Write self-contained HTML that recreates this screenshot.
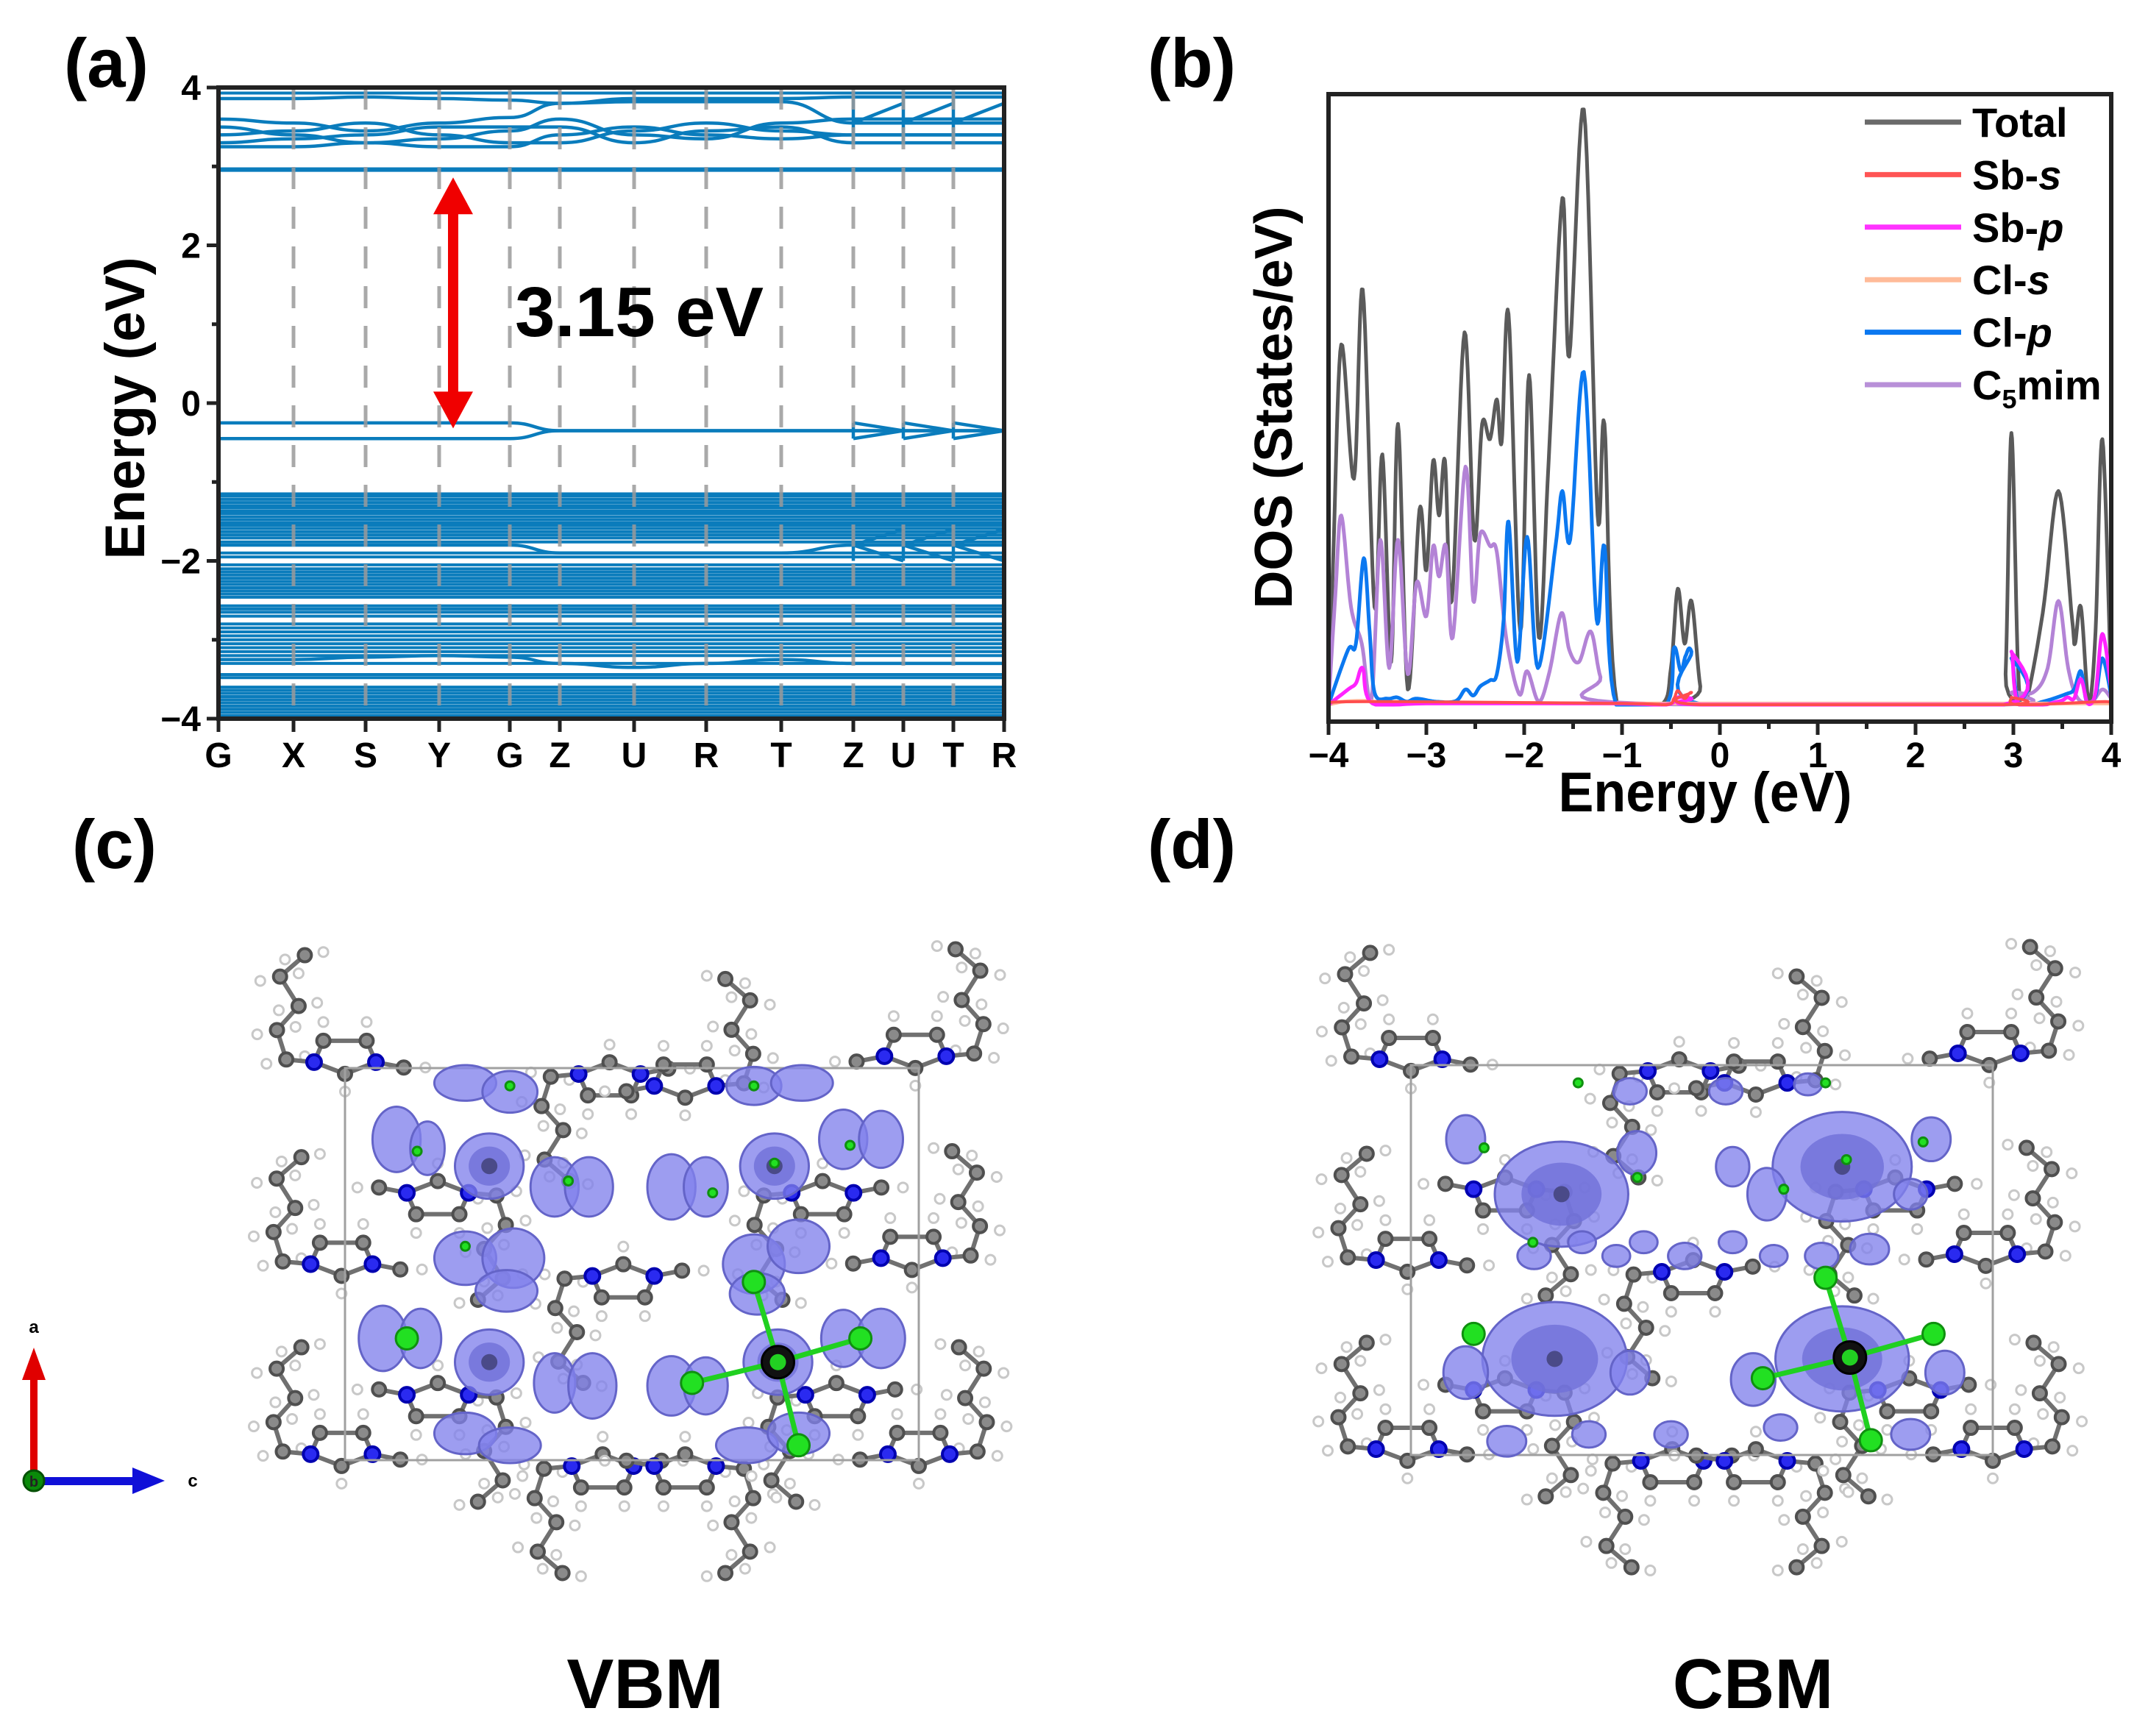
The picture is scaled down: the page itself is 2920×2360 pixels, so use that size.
<!DOCTYPE html>
<html><head><meta charset="utf-8"><title>Band structure, DOS and VBM/CBM charge densities</title>
<style>
html,body{margin:0;padding:0;background:#fff;}
svg{display:block;font-family:"Liberation Sans",Arial,sans-serif;}
</style></head>
<body>
<svg id="fig" xmlns="http://www.w3.org/2000/svg" width="2920" height="2360" viewBox="0 0 2920 2360">
  <rect x="0" y="0" width="2920" height="2360" fill="#fff"/>
  <g id="panelA"></g>
  <g id="panelB"></g>
  <g id="panelC"></g>
  <g id="panelD"></g>

  <text x="87" y="118" font-size="94" font-weight="bold">(a)</text>
  <text x="1560" y="118" font-size="94" font-weight="bold">(b)</text>
  <text x="98" y="1180" font-size="94" font-weight="bold">(c)</text>
  <text x="1560" y="1180" font-size="94" font-weight="bold">(d)</text>
  <text x="877" y="2322" font-size="96" font-weight="bold" text-anchor="middle">VBM</text>
  <text x="2383" y="2322" font-size="96" font-weight="bold" text-anchor="middle">CBM</text>
</svg>
<script>
const NS = "http://www.w3.org/2000/svg";
// ---------- Panel (a) data ----------
const kLabels = ["G","X","S","Y","G","Z","U","R","T","Z","U","T","R"];
const kDist = [0,102,200,300,396,464,565,663,765,863,931,999,1068];
const yTicksA = [4,2,0,-2,-4];
const flatBands = [2.95,2.97,3.93,
 -1.15,-1.18,-1.22,-1.26,-1.30,-1.33,-1.37,-1.40,-1.44,-1.48,-1.52,-1.55,-1.59,-1.63,-1.67,-1.71,-1.76,
 -1.90,-1.95,-2.05,-2.10,-2.14,-2.18,-2.22,-2.26,-2.30,-2.34,-2.38,-2.42,-2.46,-2.57,-2.61,-2.65,-2.70,
 -2.80,-2.85,-2.90,-2.95,-3.00,-3.05,-3.10,-3.15,-3.20,-3.30,-3.44,-3.48,-3.60,-3.64,-3.68,-3.72,-3.76,
 -3.80,-3.84,-3.88,-3.92,-3.96];
const dispBand1 = [3.60,3.55,3.45,3.55,3.62,3.80,3.82,3.82,3.82,3.55,3.55,3.55,3.55];
const dispBand2 = [3.40,3.45,3.55,3.40,3.30,3.30,3.45,3.55,3.45,3.40,3.40,3.40,3.40];
const dispBand3 = [3.30,3.35,3.40,3.50,3.50,3.50,3.30,3.45,3.50,3.30,3.30,3.30,3.30];
const dispBand4 = [3.25,3.25,3.30,3.25,3.25,3.40,3.50,3.40,3.35,3.40,3.40,3.40,3.40];
const dispBand5 = [3.86,3.86,3.88,3.86,3.84,3.80,3.86,3.86,3.86,3.88,3.88,3.88,3.88];
const dispBand6 = [-0.25,-0.25,-0.25,-0.25,-0.25,-0.35,-0.35,-0.35,-0.35,-0.35,-0.35,-0.35,-0.35];
const dispBand7 = [-0.45,-0.45,-0.45,-0.45,-0.45,-0.35,-0.35,-0.35,-0.35,-0.35,-0.35,-0.35,-0.35];
const dispBand8 = [-1.80,-1.80,-1.80,-1.80,-1.80,-1.90,-1.90,-1.90,-1.90,-1.80,-1.80,-1.80,-1.80];
const dispBand9 = [-3.25,-3.25,-3.22,-3.20,-3.22,-3.30,-3.35,-3.30,-3.25,-3.30,-3.30,-3.30,-3.30];
const dispBand10 = [3.50,3.40,3.30,3.35,3.45,3.60,3.40,3.35,3.55,3.60,3.60,3.60,3.60];
const dispBands = [dispBand1,dispBand2,dispBand3,dispBand4,dispBand5,dispBand6,dispBand7,dispBand8,dispBand9,dispBand10];
const triSegs = [[9,-0.25,-0.35],[9,-0.45,-0.35],[10,-0.25,-0.35],[10,-0.45,-0.35],[11,-0.25,-0.35],[11,-0.45,-0.35],
 [9,3.55,3.80],[10,3.55,3.80],[11,3.55,3.80],[9,-1.80,-2.00],[10,-1.80,-2.00],[11,-1.80,-2.00],[9,-1.80,-1.60],[10,-1.80,-1.60],[11,-1.80,-1.60]];
const gapTop = 2.86, gapBottom = -0.32, gapLabel = "3.15 eV";

// ---------- Panel (b) data ----------
const dosTicks = [-4,-3,-2,-1,0,1,2,3,4];
const totalPts = [[-4,0],[-3.95,2.5],[-3.87,5.9],[-3.74,3.7],[-3.65,6.8],[-3.53,1.6],[-3.45,4.1],[-3.36,0.7],[-3.29,4.6],[-3.19,0.25],[-3.07,3.2],[-3.0,2.2],[-2.93,4.0],[-2.87,3.1],[-2.81,4.0],[-2.74,1.7],[-2.61,6.1],[-2.51,2.7],[-2.43,4.6],[-2.35,4.35],[-2.28,5.0],[-2.23,4.3],[-2.16,6.4],[-2.04,1.2],[-1.95,5.4],[-1.85,1.1],[-1.75,4.0],[-1.61,8.3],[-1.54,5.7],[-1.39,9.75],[-1.25,3.1],[-1.18,4.6],[-1.05,0],[-0.6,0],[-0.5,0.6],[-0.43,1.9],[-0.36,1.0],[-0.29,1.7],[-0.2,0.3],[-0.12,0],[2.85,0],[2.92,0.5],[2.98,4.45],[3.05,0.5],[3.12,0],[3.3,1.5],[3.46,3.5],[3.6,1.4],[3.63,1.0],[3.69,1.6],[3.77,0.05],[3.84,1.2],[3.91,4.35],[4.0,0.2]];
const sbSPts = [[-4,0],[-3.7,0.05],[-1.0,0.02],[-0.55,0],[-0.47,0.1],[-0.43,0.23],[-0.36,0.1],[-0.29,0.2],[-0.2,0],[2.9,0],[2.98,0.12],[3.05,0],[3.9,0.05],[4.0,0.02]];
const sbPPts = [[-4,0],[-3.8,0.25],[-3.72,0.35],[-3.65,0.6],[-3.55,0.02],[-3.0,0.02],[-1.1,0.02],[-0.55,0],[-0.43,0.12],[-0.29,0.1],[-0.18,0],[2.9,0],[2.98,0.87],[3.06,0],[3.45,0.05],[3.55,0.12],[3.62,0.1],[3.69,0.42],[3.76,0.02],[3.84,0.2],[3.91,1.16],[4.0,0.25]];
const clSPts = [[-4,0],[-3.85,0.05],[-3.6,0.06],[-3.3,0.02],[-2.2,0.03],[-1.1,0.02],[4.0,0.02]];
const clPPts = [[-4,0],[-3.8,0.9],[-3.72,1.0],[-3.64,2.4],[-3.58,1.2],[-3.53,0.2],[-3.4,0.1],[-3.3,0.12],[-3.2,0.05],[-3.1,0.1],[-2.9,0.05],[-2.7,0.06],[-2.6,0.25],[-2.52,0.15],[-2.45,0.3],[-2.35,0.4],[-2.28,0.5],[-2.21,1.4],[-2.16,3.0],[-2.07,0.7],[-1.97,2.75],[-1.86,0.6],[-1.68,2.6],[-1.61,3.5],[-1.53,2.7],[-1.39,5.45],[-1.26,1.4],[-1.18,2.6],[-1.06,0],[-0.55,0],[-0.47,0.93],[-0.4,0.55],[-0.35,0.8],[-0.29,0.87],[-0.17,0],[2.9,0],[2.98,0.76],[3.06,0],[3.3,0.05],[3.53,0.17],[3.62,0.25],[3.69,0.55],[3.75,0.05],[3.84,0.15],[3.91,0.76],[4.0,0.15]];
const c5mimPts = [[-4,0],[-3.93,1.8],[-3.87,3.1],[-3.77,1.6],[-3.66,1.0],[-3.56,0.1],[-3.47,2.7],[-3.38,0.6],[-3.29,2.7],[-3.19,0.5],[-3.1,2.0],[-3.0,1.45],[-2.93,2.6],[-2.87,2.1],[-2.8,2.6],[-2.73,1.1],[-2.6,3.9],[-2.52,1.7],[-2.45,2.8],[-2.35,2.6],[-2.28,2.5],[-2.18,1.05],[-2.05,0.17],[-1.97,0.55],[-1.85,0.05],[-1.74,0.55],[-1.62,1.5],[-1.54,0.9],[-1.44,0.7],[-1.32,1.2],[-1.22,0.45],[-1.08,0.04],[2.9,0],[2.98,0.2],[3.2,0.2],[3.35,0.6],[3.46,1.7],[3.56,0.6],[3.66,0.1],[3.8,0.05],[3.91,0.25],[4.0,0.1]];
const legendNames = ["Total","Sb-s","Sb-p","Cl-s","Cl-p","C5mim"];

function mk(tag, attrs, parent){ const e=document.createElementNS(NS,tag); for(const k in attrs) e.setAttribute(k,attrs[k]); if(parent) parent.appendChild(e); return e; }

// ========== Panel (a) ==========
const gA = document.getElementById("panelA");
const A = {l:297,r:1365,t:119,b:977,emin:-4,emax:4};
const xA = d => A.l + d/kDist[kDist.length-1]*(A.r-A.l);
const yA = e => A.b - (e-A.emin)/(A.emax-A.emin)*(A.b-A.t);
const clipA = mk("clipPath",{id:"clipA"},gA); mk("rect",{x:A.l,y:A.t,width:A.r-A.l,height:A.b-A.t},clipA);
const bandsG = mk("g",{"clip-path":"url(#clipA)"},gA);


const BC = "#0a7cbc";
flatBands.forEach(e=>{
  const ln = mk("line",{x1:A.l,x2:A.r,y1:yA(e),y2:yA(e),stroke:BC,"stroke-width":e>2.9&&e<3?4:4},bandsG);
  
  
});
dispBands.forEach(b=>{
  let d=`M${xA(kDist[0])},${yA(b[0])}`;
  for(let i=1;i<b.length;i++){
    const x0=xA(kDist[i-1]),x1=xA(kDist[i]),dx=(x1-x0)/2;
    d+=` C${x0+dx},${yA(b[i-1])} ${x1-dx},${yA(b[i])} ${x1},${yA(b[i])}`;
  }
  const p = mk("path",{d:d,fill:"none",stroke:BC,"stroke-width":4.5},bandsG);
  
  
});
triSegs.forEach(s=>{
  const i=s[0];
  const ln = mk("line",{x1:xA(kDist[i]),y1:yA(s[1]),x2:xA(kDist[i+1]),y2:yA(s[2]),stroke:BC,"stroke-width":4.5},bandsG);
  
  
});
[9,10,11].forEach(i=>{
  [[-0.25,-0.45],[3.3,3.95],[-1.6,-2.0]].forEach(r=>{
    const ln = mk("line",{x1:xA(kDist[i]),x2:xA(kDist[i]),y1:yA(r[0]),y2:yA(r[1]),stroke:BC,"stroke-width":4.5},bandsG);
    
    
  });
});
for(let i=1;i<kDist.length-1;i++){
  const ln = mk("line",{x1:xA(kDist[i]),x2:xA(kDist[i]),y1:A.t,y2:A.b,stroke:"#9a9a9a","stroke-width":5,"stroke-dasharray":"30 24","stroke-opacity":0.85},gA);
  
  
}
const frA = mk("rect",{x:A.l,y:A.t,width:A.r-A.l,height:A.b-A.t,fill:"none",stroke:"#222","stroke-width":6},gA);


for(let e=-4;e<=4;e++){
  const major = e%2===0;
  const t = mk("line",{x1:A.l,x2:A.l-(major?16:9),y1:yA(e),y2:yA(e),stroke:"#222","stroke-width":5},gA);
  
  
}
yTicksA.forEach(v=>{
  const t = mk("text",{x:A.l-24,y:yA(v)+17,"font-size":48,"font-weight":"bold","text-anchor":"end"},gA);
  t.textContent = v<0 ? "\u2212"+Math.abs(v) : String(v);
  
  
});
kLabels.forEach((lab,i)=>{
  const tk = mk("line",{x1:xA(kDist[i]),x2:xA(kDist[i]),y1:A.b,y2:A.b+18,stroke:"#222","stroke-width":5},gA);
  
  
  const t = mk("text",{x:xA(kDist[i]),y:A.b+66,"font-size":48,"font-weight":"bold","text-anchor":"middle"},gA);
  t.textContent = lab;
  
  
});
{
  const t = mk("text",{x:0,y:0,"font-size":76,"font-weight":"bold","text-anchor":"middle",transform:"translate(196,555) rotate(-90)",textLength:411,lengthAdjust:"spacingAndGlyphs"},gA);
  t.textContent = "Energy (eV)";
  
  
}
{
  const ax = 616, yT = yA(gapTop), yB = yA(gapBottom);
  const g = mk("g",{},gA);
  
  
  mk("rect",{x:ax-7,y:yT+45,width:14,height:(yB-yT)-90,fill:"#f00000"},g);
  mk("polygon",{points:`${ax},${yT} ${ax-27},${yT+50} ${ax+27},${yT+50}`,fill:"#f00000"},g);
  mk("polygon",{points:`${ax},${yB} ${ax-27},${yB-50} ${ax+27},${yB-50}`,fill:"#f00000"},g);
  const t = mk("text",{x:700,y:457,"font-size":96,"font-weight":"bold",textLength:338,lengthAdjust:"spacingAndGlyphs"},gA);
  t.textContent = gapLabel;
  
  
}

// ========== Panel (b) ==========
const gB = document.getElementById("panelB");
const B = {l:1806,r:2870,t:128,b:981,base:958,emin:-4,emax:4,vmax:10};
const xB = e => B.l + (e-B.emin)/(B.emax-B.emin)*(B.r-B.l);
const yB = v => B.base - v/B.vmax*(B.base-B.t);
function smoothPath(pts){
  const out=[];
  for(let i=0;i<pts.length-1;i++){
    const p0=pts[Math.max(0,i-1)],p1=pts[i],p2=pts[i+1],p3=pts[Math.min(pts.length-1,i+2)];
    for(let s=0;s<10;s++){
      const t=s/10,t2=t*t,t3=t2*t;
      const f=(a,b,c,d)=>0.5*((2*b)+(-a+c)*t+(2*a-5*b+4*c-d)*t2+(-a+3*b-3*c+d)*t3);
      const e=f(p0[0],p1[0],p2[0],p3[0]); let v=f(p0[1],p1[1],p2[1],p3[1]); if(v<0)v=0;
      out.push(xB(e).toFixed(1)+","+yB(v).toFixed(1));
    }
  }
  const L=pts[pts.length-1]; out.push(xB(L[0]).toFixed(1)+","+yB(L[1]).toFixed(1));
  return "M"+out.join(" L");
}
const clipB = mk("clipPath",{id:"clipB"},gB); mk("rect",{x:B.l,y:B.t,width:B.r-B.l,height:B.b-B.t},clipB);
const curvesB = mk("g",{"clip-path":"url(#clipB)"},gB);
const seriesDefs = [
  {pts:totalPts,color:"#5a5a5a",w:5,name:"dos-total-line"},
  {pts:c5mimPts,color:"#b383d6",w:5,name:"dos-c5mim-line"},
  {pts:clPPts,color:"#0b78f0",w:5,name:"dos-cl-p-line"},
  {pts:clSPts,color:"#ffb696",w:5,name:"dos-cl-s-line"},
  {pts:sbPPts,color:"#ff22ff",w:5,name:"dos-sb-p-line"},
  {pts:sbSPts,color:"#ff4d4d",w:4,name:"dos-sb-s-line"}
];
seriesDefs.forEach(s=>{
  const p = mk("path",{d:smoothPath(s.pts),fill:"none",stroke:s.color,"stroke-width":s.w,"stroke-linejoin":"round"},curvesB);
  
  
});
const frB = mk("rect",{x:B.l,y:B.t,width:B.r-B.l,height:B.b-B.t,fill:"none",stroke:"#222","stroke-width":6},gB);


for(let e=-4;e<=4;e+=0.5){
  const major = Number.isInteger(e);
  const t = mk("line",{x1:xB(e),x2:xB(e),y1:B.b,y2:B.b+(major?18:10),stroke:"#222","stroke-width":5},gB);
  
  
}
dosTicks.forEach(v=>{
  const t = mk("text",{x:xB(v),y:B.b+62,"font-size":48,"font-weight":"bold","text-anchor":"middle"},gB);
  t.textContent = v<0 ? "\u2212"+Math.abs(v) : String(v);
  
  
});
{
  const t = mk("text",{x:2318,y:1103,"font-size":76,"font-weight":"bold","text-anchor":"middle",textLength:399,lengthAdjust:"spacingAndGlyphs"},gB);
  t.textContent = "Energy (eV)";
  
  
  const t2 = mk("text",{x:0,y:0,"font-size":72,"font-weight":"bold","text-anchor":"middle",transform:"translate(1756,554) rotate(-90)",textLength:547,lengthAdjust:"spacingAndGlyphs"},gB);
  t2.textContent = "DOS (States/eV)";
  
  
}
const legendColors = ["#6a6a6a","#ff5555","#ff33ff","#ffbb99","#0b78f0","#b890d8"];
const legG = mk("g",{},gB);


legendNames.forEach((nm,i)=>{
  const y = 166 + i*71.4;
  const row = mk("g",{},legG);
  
  
  mk("line",{x1:2535,x2:2666,y1:y,y2:y,stroke:legendColors[i],"stroke-width":7},row);
  const t = mk("text",{x:2681,y:y+20,"font-size":56,"font-weight":"bold"},row);
  if(nm==="C5mim"){
    t.textContent="C";
    const sub=mk("tspan",{"font-size":36,dy:12},t); sub.textContent="5";
    const rest=mk("tspan",{dy:-12},t); rest.textContent="mim";
  } else if(nm.endsWith("-s")||nm.endsWith("-p")){
    const parts=nm.split("-");
    t.textContent=parts[0]+"-";
    const it=mk("tspan",{"font-style":"italic"},t); it.textContent=parts[1];
  } else t.textContent=nm;
});

// ========== Panels (c),(d) ==========
const vbmBlobs = [[580,560,35,55,0],[625,575,25,45,0],[715,605,50,55,1],[810,640,35,50,0],[860,640,35,50,0],[680,465,45,30,0],[745,480,40,35,0],
 [1100,470,40,32,0],[1170,465,45,30,0],[980,640,35,55,0],[1030,640,32,50,0],[1130,605,50,55,1],[1230,560,35,50,0],[1285,560,32,48,0],
 [680,760,45,45,0],[750,760,45,50,0],[740,815,45,35,0],[1100,770,45,50,0],[1165,740,45,45,0],[1105,820,40,35,0],
 [560,895,35,55,0],[615,895,30,50,0],[715,935,50,55,1],[810,970,30,50,0],[865,975,35,55,0],[980,975,35,50,0],[1030,975,32,48,0],
 [1135,935,50,55,1],[1230,895,32,48,0],[1285,895,35,50,0],[680,1055,45,35,0],[745,1075,45,30,0],[1090,1075,45,30,0],[1165,1055,45,35,0]];
const cbmBlobsSmall = [[1140,870,48,48,1],[1345,850,50,50,1],[1135,990,52,52,1],[1345,990,48,48,1],[1070,830,14,22,0],[1195,840,14,20,0],[1410,830,14,20,0],[1395,870,12,14,0],
 [1120,915,12,12,0],[1155,905,10,10,0],[1180,915,10,10,0],[1200,905,10,10,0],[1230,915,12,12,0],[1265,905,10,10,0],[1295,915,10,10,0],[1330,915,12,12,0],[1365,910,14,14,0],
 [1290,870,14,24,0],[1265,850,12,18,0],[1070,1000,16,24,0],[1100,1050,14,14,0],[1190,1000,14,20,0],[1280,1005,16,24,0],[1220,1045,12,12,0],[1300,1040,12,12,0],[1395,1045,14,14,0],[1420,1000,14,20,0],
 [1190,795,12,12,0],[1260,795,12,12,0],[1320,790,10,10,0],[1160,1045,12,12,0]];
const cations = [[505,430,1,1],[1335,420,-1,1],[890,450,1,-1],[1000,470,-1,1],[500,770,1,1],[1330,760,-1,1],[910,790,1,-1],
 [500,1090,1,1],[1340,1090,-1,1],[880,1110,1,-1],[1000,1110,-1,-1],[640,650,-1,-1],[1200,650,1,-1],[640,990,-1,-1],[1220,990,1,-1]];
const clAtoms = [[1100,800],[1255,895],[1010,970],[1165,1075],[595,895],[680,740],[745,470],[1100,470],[1130,600],[610,580],[830,630],[1040,650],[1240,570]];

function drawStructure(gParent, box, blobs){
  const sx = box.w/835, sy = box.h/660;
  const X = x => box.x + (x-505)*sx, Y = y => box.y + (y-440)*sy;
  const molG = mk("g",{},gParent);
  
  
  const ring = [[-50,0],[-35,-40],[35,-40],[50,0],[0,22]];
  const chain = [[-50,0],[-95,-5],[-110,-60],[-75,-105],[-105,-160],[-65,-200]];
  cations.forEach(c=>{
    const P = p => [X(c[0]+p[0]*c[2]*0.9), Y(c[1]+p[1]*c[3]*0.9)];
    const H = [];
    chain.slice(1).forEach(p=>{H.push([p[0]-32,p[1]+8]);H.push([p[0]+30,p[1]-6]);});
    H.push([35,-75],[-35,-75],[0,55],[130,10]);
    H.forEach(h=>{const q=P(h); mk("circle",{cx:q[0],cy:q[1],r:6.5,fill:"#fff",stroke:"#c8c8c8","stroke-width":3},molG);});
    const cp = chain.map(P);
    mk("polyline",{points:cp.map(q=>q.join(",")).join(" "),fill:"none",stroke:"#707070","stroke-width":6},molG);
    const rp = ring.map(P);
    mk("polygon",{points:rp.map(q=>q.join(",")).join(" "),fill:"none",stroke:"#707070","stroke-width":6},molG);
    const me = P([95,10]); mk("line",{x1:rp[3][0],y1:rp[3][1],x2:me[0],y2:me[1],stroke:"#707070","stroke-width":6},molG);
    cp.slice(1).concat([rp[1],rp[2],rp[4],me]).forEach(q=>mk("circle",{cx:q[0],cy:q[1],r:9,fill:"#8a8a8a",stroke:"#4f4f4f","stroke-width":4},molG));
    [rp[0],rp[3]].forEach(q=>mk("circle",{cx:q[0],cy:q[1],r:10,fill:"#2a2af0",stroke:"#0000b0","stroke-width":4},molG));
  });
  const cell = mk("rect",{x:box.x,y:box.y,width:box.w,height:box.h,fill:"none",stroke:"#a0a0a0","stroke-width":3},gParent);
  
  
  const blobG = mk("g",{},gParent);
  
  
  blobs.forEach(b=>{
    mk("ellipse",{cx:X(b[0]),cy:Y(b[1]),rx:b[2]*sx,ry:b[3]*sy,fill:"#8282ec","fill-opacity":0.78,stroke:"#6464c8","stroke-width":3},blobG);
    if(b[4]){
      mk("ellipse",{cx:X(b[0]),cy:Y(b[1]),rx:b[2]*sx*0.6,ry:b[3]*sy*0.6,fill:"#7070d8","fill-opacity":0.8},blobG);
      mk("circle",{cx:X(b[0]),cy:Y(b[1]),r:11,fill:"#4a4a88"},blobG);
    }
  });
  const atomG = mk("g",{},gParent);
  
  
  const sb=[1135,935];
  [[1100,800],[1255,895],[1010,970],[1165,1075]].forEach(c=>{
    mk("line",{x1:X(sb[0]),y1:Y(sb[1]),x2:X(c[0]),y2:Y(c[1]),stroke:"#20d020","stroke-width":7},atomG);
  });
  clAtoms.forEach((c,i)=>mk("circle",{cx:X(c[0]),cy:Y(c[1]),r:i<5?15:6,fill:"#22e022",stroke:"#0f900f","stroke-width":3},atomG));
  mk("circle",{cx:X(sb[0]),cy:Y(sb[1]),r:22,fill:"#111",stroke:"#000","stroke-width":3},atomG);
  mk("circle",{cx:X(sb[0]),cy:Y(sb[1]),r:11,fill:"#22d022"},atomG);
}
const boxC = {x:469,y:1452,w:780,h:533};
const boxD = {x:1918,y:1448,w:791,h:530};
drawStructure(document.getElementById("panelC"), boxC, vbmBlobs);
const cbmBlobs = cbmBlobsSmall.map(b=>[505+(b[0]-1030)/425*835, 440+(b[1]-776)/284*660, b[2]*1.864/0.934, b[3]*1.877/0.81*0.8, b[4]]);
drawStructure(document.getElementById("panelD"), boxD, cbmBlobs);

{
  const g = mk("g",{},document.getElementById("panelC"));
  
  
  mk("rect",{x:41,y:1870,width:10,height:140,fill:"#e00000"},g);
  mk("polygon",{points:"46,1832 30,1876 62,1876",fill:"#e00000"},g);
  mk("rect",{x:50,y:2008,width:135,height:11,fill:"#1010d8"},g);
  mk("polygon",{points:"224,2013 180,1995 180,2031",fill:"#1010d8"},g);
  mk("circle",{cx:46,cy:2013,r:14,fill:"#0a8a0a",stroke:"#055005","stroke-width":3},g);
  const ta=mk("text",{x:46,y:1812,"font-size":24,"font-weight":"bold","text-anchor":"middle"},g); ta.textContent="a";
  const tc=mk("text",{x:262,y:2021,"font-size":24,"font-weight":"bold","text-anchor":"middle"},g); tc.textContent="c";
  const tb=mk("text",{x:46,y:2021,"font-size":20,"font-weight":"bold","text-anchor":"middle",fill:"#222"},g); tb.textContent="b";
}
</script>
</body></html>
